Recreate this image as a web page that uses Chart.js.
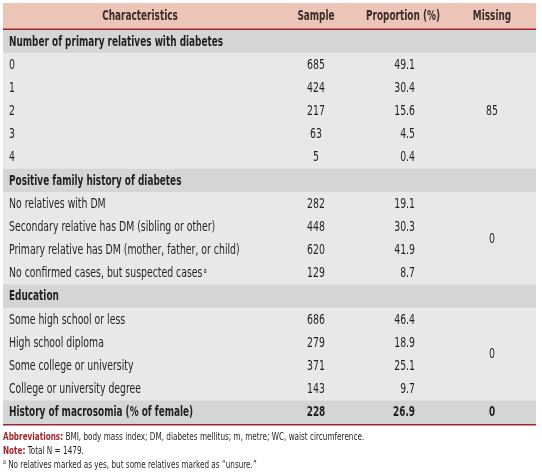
<!DOCTYPE html>
<html>
<head>
<meta charset="utf-8">
<script src="https://cdn.jsdelivr.net/npm/chart.js@4/dist/chart.umd.min.js"></script>
<style>
  html, body { margin: 0; padding: 0; background: #ffffff; }
  #wrap { width: 542px; height: 475px; }
</style>
</head>
<body>
<div id="wrap"><canvas id="c" width="542" height="475"></canvas></div>
<script>
const columnHeaders = ["Characteristics", "Sample", "Proportion (%)", "Missing"];
const categories = [
  "Number of primary relatives with diabetes",
  "0", "1", "2", "3", "4",
  "Positive family history of diabetes",
  "No relatives with DM",
  "Secondary relative has DM (sibling or other)",
  "Primary relative has DM (mother, father, or child)",
  "No confirmed cases, but suspected cases",
  "Education",
  "Some high school or less",
  "High school diploma",
  "Some college or university",
  "College or university degree",
  "History of macrosomia (% of female)"
];
const rowKinds = ["section","item","item","item","item","item","section","item","item","item","item","section","item","item","item","item","summary"];
const footnoteMarks = [null,null,null,null,null,null,null,null,null,null,"a",null,null,null,null,null,null];
const sampleValues = [null, 685, 424, 217, 63, 5, null, 282, 448, 620, 129, null, 686, 279, 371, 143, 228];
const proportionValues = [null, 49.1, 30.4, 15.6, 4.5, 0.4, null, 19.1, 30.3, 41.9, 8.7, null, 46.4, 18.9, 25.1, 9.7, 26.9];
const missingFrom = [1, 7, 12, 16];
const missingTo = [5, 10, 15, 16];
const missingValues = [85, 0, 0, 0];
const notes = [
  ["Abbreviations:", " BMI, body mass index; DM, diabetes mellitus; m, metre; WC, waist circumference."],
  ["Note:", " Total N = 1479."],
  ["a", " No relatives marked as yes, but some relatives marked as \u201cunsure.\u201d"]
];

// ---- Styling / layout (not data) ----
const FONT = "'DejaVu Sans Condensed', 'DejaVu Sans', sans-serif";
const FS = 13.3, FS_NOTE = 11;
const X_MAX = 533;
const colPos = { label: 6, charHeader: 137, sample: 313, propRight: 412, propHeader: 400, missing: 489 };
const colors = { header: "#ecc5b8", red: "#a3262a", section: "#d4d5d6", item: "#e8e8e8", text: "#231f20", headText: "#3a2c28" };
const SQ_BOLD = 0.745, SQ_REG = 0.78, SQ_NOTE = 0.735;

function drawText(ctx, txt, x, y, align, sq) {
  ctx.save();
  ctx.translate(x, y);
  ctx.scale(sq, 1);
  ctx.textAlign = align;
  ctx.fillText(txt, 0, 0);
  ctx.restore();
  return ctx.measureText(txt).width * sq;
}

const tablePlugin = {
  id: "tableText",
  afterDatasetsDraw(chart) {
    const ctx = chart.ctx;
    const xs = chart.scales.x, ys = chart.scales.y;
    const area = chart.chartArea;
    const X = v => xs.getPixelForValue(v);
    ctx.save();
    // header band
    const hTop = 3, hBot = area.top - 1;
    ctx.fillStyle = colors.header;
    ctx.fillRect(area.left, hTop, area.right - area.left, hBot - hTop);
    ctx.strokeStyle = colors.red;
    ctx.lineWidth = 1.5;
    ctx.beginPath();
    ctx.moveTo(area.left, hBot + 0.25); ctx.lineTo(area.right, hBot + 0.25);
    ctx.moveTo(area.left, area.bottom + 0.75); ctx.lineTo(area.right, area.bottom + 0.75);
    ctx.stroke();
    // header text
    ctx.fillStyle = colors.headText;
    ctx.font = "bold " + FS + "px " + FONT;
    ctx.textBaseline = "middle";
    const hMid = (hTop + hBot) / 2 + 0.5;
    drawText(ctx, columnHeaders[0], X(colPos.charHeader), hMid, "center", SQ_BOLD);
    drawText(ctx, columnHeaders[1], X(colPos.sample), hMid, "center", SQ_BOLD);
    drawText(ctx, columnHeaders[2], X(colPos.propHeader), hMid, "center", SQ_BOLD);
    drawText(ctx, columnHeaders[3], X(colPos.missing), hMid, "center", SQ_BOLD);

    // rows
    categories.forEach((lab, i) => {
      const y = ys.getPixelForValue(i) + 0.5;
      const bold = rowKinds[i] !== "item";
      const sq = bold ? SQ_BOLD : SQ_REG;
      const f = (bold ? "bold " : "") + FS + "px " + FONT;
      ctx.fillStyle = colors.text;
      ctx.font = f;
      const w = drawText(ctx, lab, X(colPos.label), y, "left", sq);
      if (footnoteMarks[i]) {
        ctx.font = "7.5px " + FONT;
        drawText(ctx, footnoteMarks[i], X(colPos.label) + w + 1, y - 3, "left", sq);
        ctx.font = f;
      }
      if (sampleValues[i] !== null) {
        drawText(ctx, String(sampleValues[i]), X(colPos.sample), y, "center", sq);
      }
      if (proportionValues[i] !== null) {
        drawText(ctx, proportionValues[i].toFixed(1), X(colPos.propRight), y, "right", sq);
      }
    });
    // missing column (merged cells)
    missingValues.forEach((v, k) => {
      const y = (ys.getPixelForValue(missingFrom[k]) + ys.getPixelForValue(missingTo[k])) / 2 + 0.5;
      const bold = rowKinds[missingFrom[k]] === "summary";
      ctx.font = (bold ? "bold " : "") + FS + "px " + FONT;
      ctx.fillStyle = colors.text;
      drawText(ctx, String(v), X(colPos.missing), y, "center", bold ? SQ_BOLD : SQ_REG);
    });
    // notes
    ctx.textBaseline = "middle";
    let ny = area.bottom + 13;
    notes.forEach((n, k) => {
      let x = area.left;
      if (k < 2) {
        ctx.font = "bold " + FS_NOTE + "px " + FONT;
        ctx.fillStyle = colors.red;
        x += drawText(ctx, n[0], x, ny, "left", SQ_NOTE);
      } else {
        ctx.font = "7px " + FONT;
        ctx.fillStyle = colors.text;
        x += drawText(ctx, n[0], x, ny - 3, "left", SQ_NOTE);
      }
      ctx.font = FS_NOTE + "px " + FONT;
      ctx.fillStyle = colors.text;
      drawText(ctx, n[1], x, ny, "left", SQ_NOTE);
      ny += 14;
    });
    ctx.restore();
  }
};

new Chart(document.getElementById("c"), {
  type: "bar",
  data: {
    labels: categories,
    datasets: [{
      data: categories.map(() => [0, X_MAX]),
      backgroundColor: rowKinds.map(k => k === "item" ? colors.item : colors.section),
      borderWidth: 0,
      barPercentage: 1,
      categoryPercentage: 1
    }]
  },
  options: {
    indexAxis: "y",
    responsive: false,
    animation: false,
    events: [],
    layout: { padding: { top: 30, bottom: 51, left: 3, right: 6 } },
    plugins: { legend: { display: false }, tooltip: { enabled: false } },
    scales: {
      x: { type: "linear", min: 0, max: X_MAX, display: false },
      y: { type: "category", display: false, offset: true, grid: { display: false } }
    }
  },
  plugins: [tablePlugin]
});
</script>
</body>
</html>
